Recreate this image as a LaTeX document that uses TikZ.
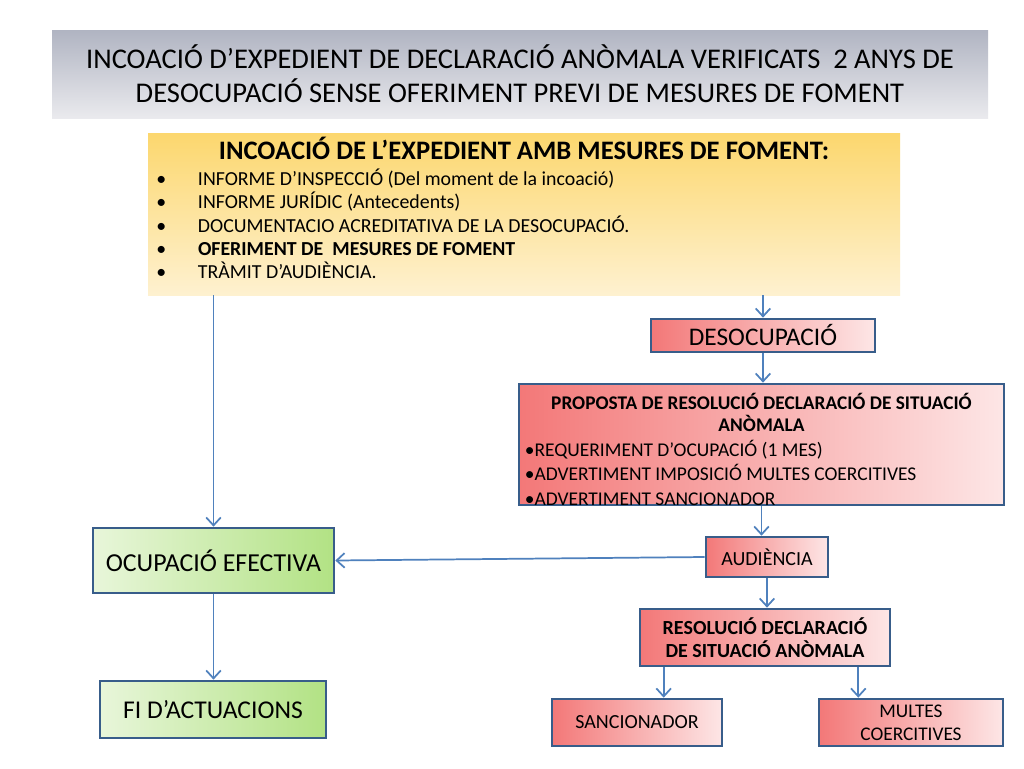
\documentclass[tikz,border=0pt]{standalone}
\usepackage{fontspec}
\setmainfont{Carlito}
\usetikzlibrary{arrows.meta}
\usetikzlibrary{
        positioning,
    }
\definecolor{linkblue}{RGB}{79,129,189}
\definecolor{boxedge}{RGB}{56,93,138}
\definecolor{redleft}{RGB}{243,120,120}
\definecolor{redright}{RGB}{253,230,230}
\definecolor{greenleft}{RGB}{232,246,218}
\definecolor{greenright}{RGB}{178,226,132}
\definecolor{yeltop}{RGB}{252,215,110}
\definecolor{yelbot}{RGB}{254,241,208}
\definecolor{greytop}{RGB}{176,180,194}
\definecolor{greybot}{RGB}{234,234,238}

\begin{document}
\begin{tikzpicture}[x=0.75pt,y=-0.75pt,
        redbox/.style={draw=boxedge, line width=2pt, left color=redleft, right color=redright, inner sep=2pt, align=center},
        greenbox/.style={draw=boxedge, line width=2pt, left color=greenleft, right color=greenright, inner sep=2pt, align=center},
        flow/.style={draw=linkblue, line width=1.3pt, -{Straight Barb[length=6pt,width=11pt]}}
    ]
        \useasboundingbox (0,0) rectangle (1024,768);
        \fill[white] (0,0) rectangle (1024,768);
        \begin{scope}
            % header boxes
            \node[top color=greytop, bottom color=greybot, minimum width=702pt, minimum height=66pt, align=center,
                font=\fontsize{21.4}{25.5}\selectfont] (titol) at (520,74)
                {INCOACIÓ D’EXPEDIENT DE DECLARACIÓ ANÒMALA VERIFICATS\ \ 2 ANYS DE\\
                 DESOCUPACIÓ SENSE OFERIMENT PREVI DE MESURES DE FOMENT};
            \node[top color=yeltop, bottom color=yelbot, minimum width=564pt, minimum height=121.5pt, inner sep=0pt,
                font=\fontsize{14.9}{17.5}\selectfont] (incoacio) at (524,214)
                {\raisebox{4.5pt}[\height][\depth]{\parbox{541.5pt}{\raggedright
                 {\centering\bfseries\fontsize{20}{22}\selectfont INCOACIÓ DE L’EXPEDIENT AMB MESURES DE FOMENT:\par}
                 \vspace{2pt}
                 \makebox[26.25pt][l]{\hspace{-5pt}\textbullet}INFORME D’INSPECCIÓ (Del moment de la incoació)\\
                 \makebox[26.25pt][l]{\hspace{-5pt}\textbullet}INFORME JURÍDIC (Antecedents)\\
                 \makebox[26.25pt][l]{\hspace{-5pt}\textbullet}DOCUMENTACIO ACREDITATIVA DE LA DESOCUPACIÓ.\\
                 \makebox[26.25pt][l]{\hspace{-5pt}\textbullet}\textbf{OFERIMENT DE\ \ MESURES DE FOMENT}\\
                 \makebox[26.25pt][l]{\hspace{-5pt}\textbullet}TRÀMIT D’AUDIÈNCIA.}}};
        \end{scope}
        \begin{scope}
            % right column
            \node[redbox, minimum width=168pt, minimum height=24.75pt, font=\fontsize{19}{21}\selectfont] (desocup) at (763,335.5) {DESOCUPACIÓ};
            \node[redbox, minimum width=363.75pt, minimum height=90.75pt, inner sep=0pt,
                font=\fontsize{14.6}{18.4}\selectfont] (proposta) at (761.5,444.5)
                {\raisebox{-3.75pt}[\height][\depth]{\parbox{355pt}{\raggedright
                 {\centering\bfseries\fontsize{14.5}{16.5}\selectfont PROPOSTA DE RESOLUCIÓ DECLARACIÓ DE SITUACIÓ\\ ANÒMALA\par}
                 •REQUERIMENT D’OCUPACIÓ (1 MES)\\
                 •ADVERTIMENT IMPOSICIÓ MULTES COERCITIVES\\
                 •ADVERTIMENT SANCIONADOR}}};
            \node[redbox, minimum width=91.5pt, minimum height=30pt, font=\fontsize{15}{17}\selectfont] (audiencia) at (767,557) {AUDIÈNCIA};
            \node[redbox, minimum width=187.5pt, minimum height=42.75pt, font=\bfseries\fontsize{15}{17.25}\selectfont] (resolucio) at (765,637.5)
                {RESOLUCIÓ DECLARACIÓ\\ DE SITUACIÓ ANÒMALA};
            \node[redbox, minimum width=127.5pt, minimum height=35.25pt, font=\fontsize{15}{17}\selectfont] (sancio) at (637,722.5) {SANCIONADOR};
            \node[redbox, minimum width=138pt, minimum height=35.25pt, font=\fontsize{14.5}{17.25}\selectfont] (multes) at (911,722.5) {MULTES\\ COERCITIVES};
        \end{scope}
        \begin{scope}
            % left column
            \node[greenbox, minimum width=180.75pt, minimum height=48.75pt, font=\fontsize{19.4}{22}\selectfont] (ocupacio) at (213.5,560.5) {OCUPACIÓ EFECTIVA};
            \node[greenbox, minimum width=169.5pt, minimum height=42.75pt, font=\fontsize{19.2}{22}\selectfont] (fi) at (213,709.5) {FI D’ACTUACIONS};
        \end{scope}
        \begin{scope}
            \draw[flow] (desocup.north |- incoacio.south) -- (desocup.north);
            \draw[flow] (ocupacio.north |- incoacio.south) -- (ocupacio.north);
            \draw[flow] (desocup.south) -- (desocup.south |- proposta.north);
            \draw[flow] (proposta.south) -- (proposta.south |- audiencia.north);
            \draw[flow] (audiencia.west) -- (ocupacio.east);
            \draw[flow] (audiencia.south) -- (audiencia.south |- resolucio.north);
            \draw[flow] ([xshift=18.75pt]resolucio.south west) -- ([xshift=18.75pt]resolucio.south west |- sancio.north);
            \draw[flow] ([xshift=-24.75pt]resolucio.south east) -- ([xshift=-24.75pt]resolucio.south east |- multes.north);
            \draw[flow] (ocupacio.south) -- (ocupacio.south |- fi.north);
        \end{scope}
    \end{tikzpicture}
\end{document}
